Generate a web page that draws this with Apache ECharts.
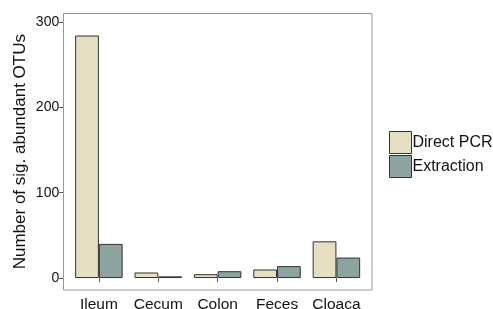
<!DOCTYPE html>
<html><head><meta charset="utf-8">
<script src="https://cdn.jsdelivr.net/npm/echarts@6/dist/echarts.min.js"></script>
<style>html,body{margin:0;padding:0;background:#fff}#c{width:493px;height:309px}</style>
</head><body><div id="c"></div>
<script>
var categories = ['Ileum', 'Cecum', 'Colon', 'Feces', 'Cloaca'];
var directPCR = [284, 6.5, 4.5, 10, 43];
var extraction = [40, 2, 8, 14, 24];
var seriesNames = ['Direct PCR', 'Extraction'];
var yTicks = [0, 100, 200, 300];

var chart = echarts.init(document.getElementById('c'), null, {renderer: 'canvas'});
var font = 'Liberation Sans, Arial, sans-serif';
chart.setOption({
  animation: false,
  backgroundColor: '#fff',
  grid: {left: 69.2, right: 126.9, top: 13.3, bottom: 19, containLabel: false, outerBoundsMode: 'none'},
  legend: {
    orient: 'vertical', left: 389, top: 131, padding: 0,
    itemWidth: 22, itemHeight: 22, itemGap: 1,
    icon: 'rect',
    itemStyle: {borderWidth: 1, borderColor: '#333'},
    textStyle: {fontFamily: font, fontSize: 16, color: '#111', padding: [0, 0, 0, -4]},
    data: seriesNames
  },
  xAxis: {
    type: 'category', data: categories,
    axisLine: {show: false},
    axisTick: {show: true, alignWithLabel: true, length: 4, interval: 0, lineStyle: {color: '#555'}},
    axisLabel: {fontFamily: font, fontSize: 15.5, color: '#111', margin: 7, interval: 0}
  },
  yAxis: {
    type: 'value', min: -14, max: 310, interval: 100,
    offset: 6,
    axisLine: {show: false},
    axisTick: {show: true, length: 4, lineStyle: {color: '#555'},
      customValues: yTicks},
    axisLabel: {fontFamily: font, fontSize: 14, color: '#111', margin: 4,
      customValues: yTicks},
    splitLine: {show: false},
    name: 'Number of sig. abundant OTUs', nameLocation: 'middle', nameGap: 34,
    nameMoveOverlap: false,
    nameTextStyle: {fontFamily: font, fontSize: 17, color: '#111'}
  },
  series: [
    {name: seriesNames[0], type: 'bar', data: directPCR, barGap: '0%', barCategoryGap: '20%',
      itemStyle: {color: '#E5DEC3', borderColor: '#333', borderWidth: 1}},
    {name: seriesNames[1], type: 'bar', data: extraction, barGap: '0%', barCategoryGap: '20%',
      itemStyle: {color: '#8DA3A0', borderColor: '#333', borderWidth: 1}}
  ],
  graphic: [{
    type: 'rect', silent: true, z: 10,
    shape: {x: 63.5, y: 13.5, width: 308.5, height: 276.5},
    style: {fill: 'none', stroke: '#999', lineWidth: 1}
  }]
});
</script></body></html>
